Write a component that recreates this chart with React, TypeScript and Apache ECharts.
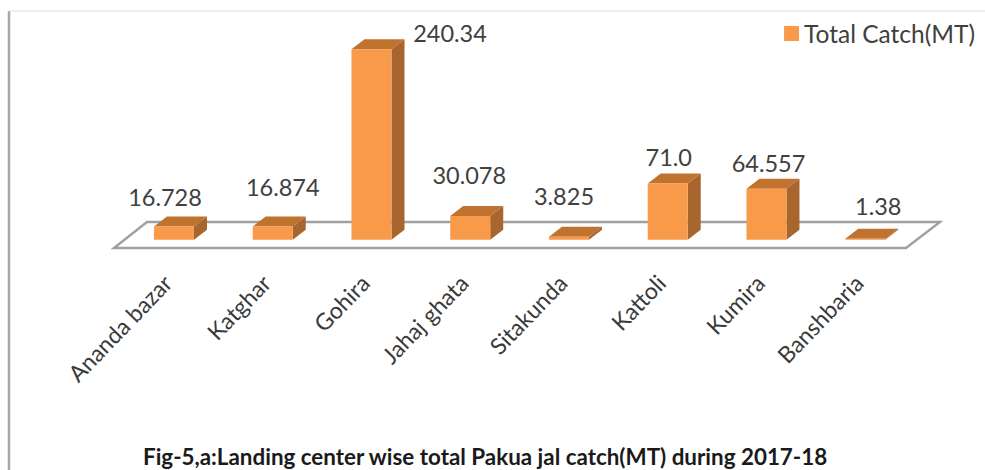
import React, { useEffect, useRef } from "react";
import * as echarts from "echarts";

const categories = ["Ananda bazar", "Katghar", "Gohira", "Jahaj ghata", "Sitakunda", "Kattoli", "Kumira", "Banshbaria"];
const totalCatch = [16.728, 16.874, 240.34, 30.078, 3.825, 71.0, 64.557, 1.38];
const valueLabels = ["16.728", "16.874", "240.34", "30.078", "3.825", "71.0", "64.557", "1.38"];
const seriesName = "Total Catch(MT)";
const titleText = "Fig-5,a:Landing center wise total Pakua jal catch(MT) during 2017-18";

// Layout only: where each value label sits relative to its bar's top centre
const labelNudges: [number, number][] = [
  [-9, -29.5], [10, -39.4], [78.5, -16.3], [-1, -41], [-5, -41], [1, -26.5], [2, -25.6], [13, -32.7],
];
const FONT = "Lato, sans-serif";

export default function App() {
  const ref = useRef<HTMLDivElement>(null);
  useEffect(() => {
    document.body.style.margin = "0";
    const chart = echarts.init(ref.current!, undefined, { renderer: "svg" });
    const renderItem = (params: any, api: any) => {
      const i = api.value(0);
      const v = api.value(1);
      const top = api.coord([i, v]);
      const base = api.coord([i, 0]);
      const w = api.size([1, 0])[0] * 0.405;
      const dx = 13;
      const dy = 10;
      const l = top[0] - w / 2;
      const r = top[0] + w / 2;
      return {
        type: "group",
        children: [
          {
            type: "polygon",
            shape: { points: [[r, top[1]], [r + dx, top[1] - dy], [r + dx, base[1] - dy], [r, base[1]]] },
            style: { fill: "#A8652E" },
          },
          {
            type: "polygon",
            shape: { points: [[l, top[1]], [l + dx, top[1] - dy], [r + dx, top[1] - dy], [r, top[1]]] },
            style: { fill: "#C0722F" },
          },
          {
            type: "rect",
            shape: { x: l, y: top[1], width: w, height: base[1] - top[1] },
            style: { fill: "#F9994A" },
          },
          {
            type: "text",
            x: top[0] + labelNudges[i][0],
            y: top[1] + labelNudges[i][1],
            style: {
              text: valueLabels[i],
              fill: "#404040",
              font: `23.5px ${FONT}`,
              textAlign: "center",
              textVerticalAlign: "middle",
            },
          },
        ],
      };
    };
    chart.setOption({
      animation: false,
      backgroundColor: "#fff",
      grid: { left: 124.6, width: 790, top: 2, height: 237.8 },
      title: {
        text: titleText,
        left: 138,
        top: 440,
        textStyle: { fontFamily: FONT, fontSize: 22.4, fontWeight: "bold", color: "#1a1a1a" },
      },
      legend: {
        data: [{ name: seriesName, itemStyle: { color: "#F9994A" } }],
        right: 5,
        top: 16,
        icon: "rect",
        itemWidth: 15,
        itemHeight: 15,
        itemGap: 9,
        textStyle: { fontFamily: FONT, fontSize: 24.5, color: "#404040" },
      },
      xAxis: {
        type: "category",
        data: categories,
        axisLine: { show: false },
        axisTick: { show: false },
        axisLabel: {
          interval: 0,
          rotate: 46,
          margin: 32,
          padding: [0, 9.5, 14, 0],
          fontFamily: FONT,
          fontSize: 23,
          color: "#3a3a3a",
        },
      },
      yAxis: { type: "value", min: 0, max: 300, show: false },
      graphic: [
        { type: "line", shape: { x1: 9, y1: 11, x2: 9, y2: 470 }, style: { stroke: "#a8a8a8", lineWidth: 2.5 } },
        { type: "line", shape: { x1: 9, y1: 11, x2: 985, y2: 11 }, style: { stroke: "#dddddd", lineWidth: 1 } },
        {
          type: "polygon",
          shape: { points: [[114, 248], [147, 222], [940, 222], [906, 248]] },
          style: { fill: "#fff", stroke: "#a0a0a0", lineWidth: 2.4 },
        },
      ],
      series: [
        {
          type: "custom",
          name: seriesName,
          z: 5,
          clip: false,
          renderItem,
          encode: { x: 0, y: 1 },
          itemStyle: { color: "#F9994A" },
          data: totalCatch.map((v, i) => [i, v]),
        },
      ],
    });
    return () => chart.dispose();
  }, []);
  return <div ref={ref} style={{ width: 985, height: 470 }} />;
}
